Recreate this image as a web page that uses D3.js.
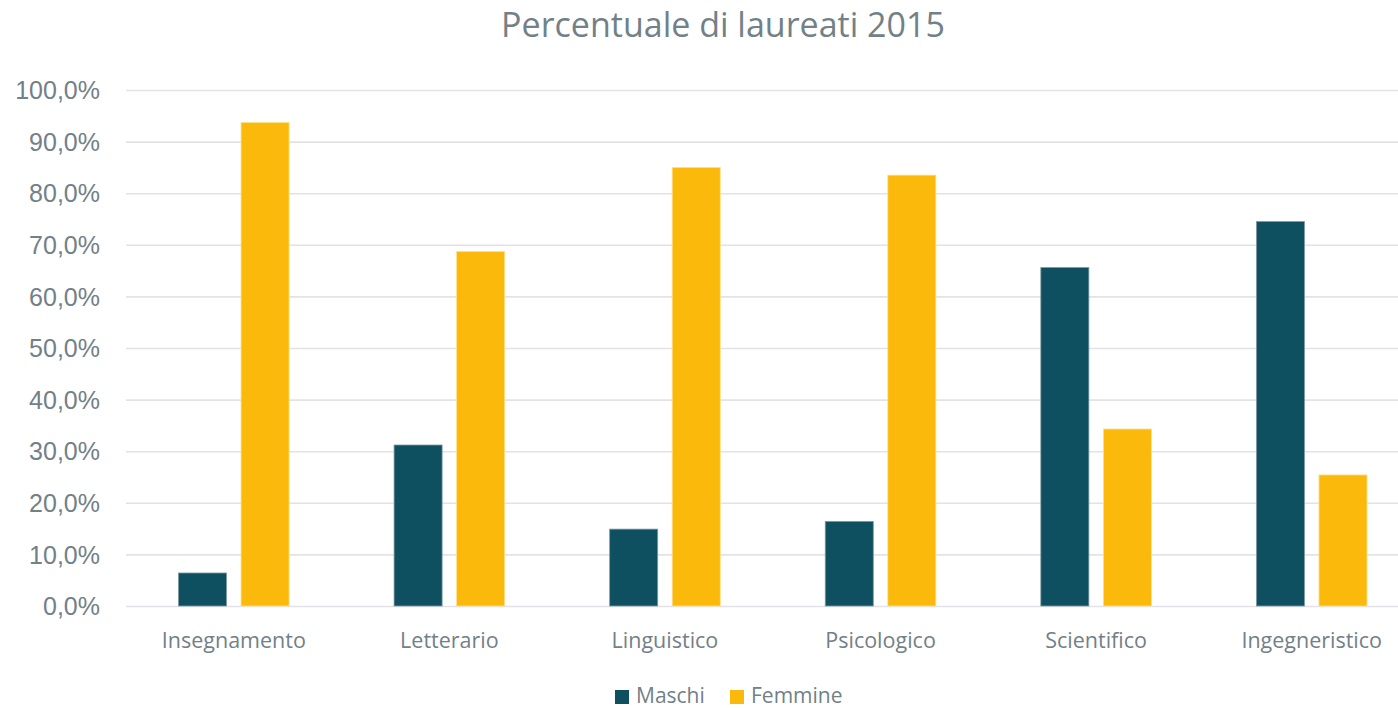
<!DOCTYPE html>
<html>
<head>
<meta charset="utf-8">
<script src="https://cdn.jsdelivr.net/npm/d3@7/dist/d3.min.js"></script>
<style>
  html, body { margin: 0; padding: 0; background: #fff; }
  svg { display: block; }
</style>
</head>
<body>
<svg id="chart" width="1398" height="708"></svg>
<script>
const categories = ["Insegnamento", "Letterario", "Linguistico", "Psicologico", "Scientifico", "Ingegneristico"];
const seriesNames = ["Maschi", "Femmine"];
const maschi = [6.4, 31.2, 14.9, 16.4, 65.6, 74.5];
const femmine = [93.7, 68.7, 85.0, 83.5, 34.3, 25.4];
const yTicks = [0, 10, 20, 30, 40, 50, 60, 70, 80, 90, 100];
const colors = ["#0f5060", "#fbba0b"];
const chartTitle = "Percentuale di laureati 2015";

(function () {
const svg = d3.select("#chart");
const W = 1398, H = 708;
const mLeft = 126, mRight = 1419.5, mTop = 90, mBottom = 606;

const x0 = d3.scaleBand().domain(categories).range([mLeft, mRight]).paddingInner(0.487).paddingOuter(0.2435);
const x1 = d3.scaleBand().domain(seriesNames).range([0, x0.bandwidth()]).paddingInner(0.232).paddingOuter(0);
const y = d3.scaleLinear().domain([0, 100]).range([mBottom, mTop]);

// gridlines
const yAxis = d3.axisLeft(y).tickValues(yTicks).tickSize(-(W - mLeft)).tickFormat(d => d.toFixed(1).replace(".", ",") + "%");
const gy = svg.append("g").attr("transform", `translate(${mLeft},0)`).call(yAxis);
gy.select(".domain").remove();
gy.selectAll(".tick line").attr("stroke", "#e2e2e8").attr("stroke-width", 1.6);
gy.selectAll(".tick text")
  .attr("x", -26)
  .attr("dy", "0.35em")
  .attr("fill", "#728088")
  .style("font-family", "'Liberation Sans', Arial, sans-serif")
  .style("font-size", "25px");

// bars
const data = categories.map((c, i) => ({ cat: c, values: [maschi[i], femmine[i]] }));
const groups = svg.append("g").selectAll("g").data(data).join("g")
  .attr("transform", d => `translate(${x0(d.cat)},0)`);
groups.selectAll("rect").data(d => d.values.map((v, j) => ({ key: seriesNames[j], v, j })))
  .join("rect")
  .attr("x", d => x1(d.key))
  .attr("width", x1.bandwidth())
  .attr("y", d => y(d.v))
  .attr("height", d => y(0) - y(d.v))
  .attr("fill", d => colors[d.j])
  .attr("stroke", d => d.j === 0 ? "#7d9aa2" : "#fde08a")
  .attr("stroke-width", 0.8);

// x axis labels
const xAxis = d3.axisBottom(x0).tickSize(0).tickPadding(0);
const gx = svg.append("g").attr("transform", `translate(0,${mBottom})`).call(xAxis);
gx.select(".domain").remove();
gx.selectAll(".tick text")
  .attr("y", 42)
  .attr("dy", 0)
  .attr("fill", "#728088")
  .style("font-family", "'Open Sans', sans-serif")
  .style("font-size", "21.5px");

// title
svg.append("text")
  .attr("x", 723).attr("y", 37)
  .attr("text-anchor", "middle")
  .attr("fill", "#728088")
  .style("font-family", "'Open Sans', sans-serif")
  .style("font-size", "34px")
  .text(chartTitle);

// legend
const legend = svg.append("g");
const legX = [615, 730];
seriesNames.forEach((s, i) => {
  legend.append("rect").attr("x", legX[i]).attr("y", 690).attr("width", 14).attr("height", 14).attr("fill", colors[i]);
  legend.append("text").attr("x", legX[i] + 21).attr("y", 703)
    .attr("fill", "#728088")
    .style("font-family", "'Open Sans', sans-serif")
    .style("font-size", "21px")
    .text(s);
});
})();
</script>
</body>
</html>
